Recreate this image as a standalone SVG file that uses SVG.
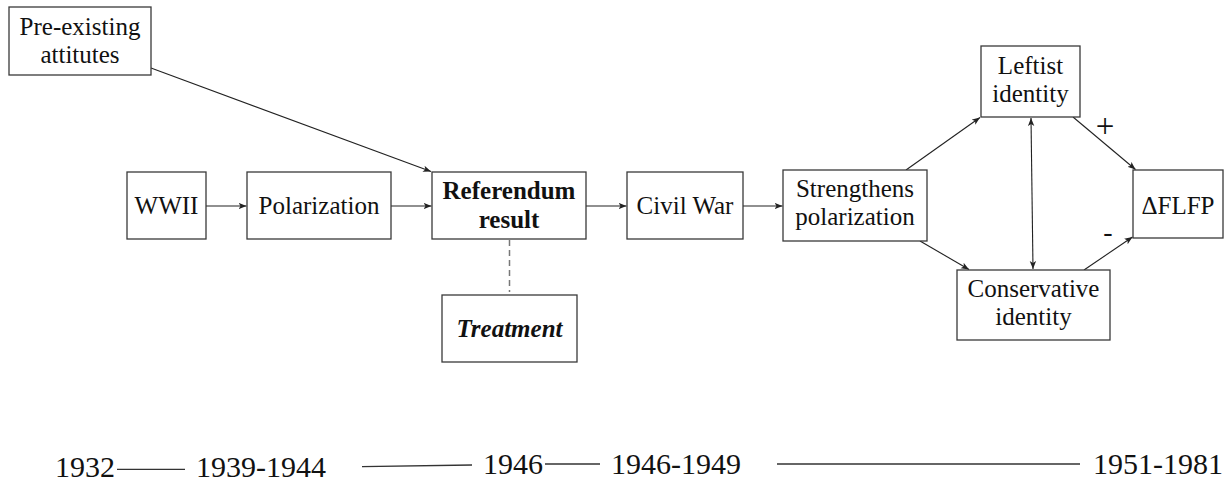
<svg xmlns="http://www.w3.org/2000/svg" width="1232" height="484" viewBox="0 0 1232 484">
<style>
.box{fill:#fff;stroke:#3a3a3a;stroke-width:1.3}
.t{font-family:"Liberation Serif",serif;font-size:25px;fill:#111;text-anchor:middle}
.b{font-weight:bold}
.bi{font-weight:bold;font-style:italic}
.c{stroke:#222;stroke-width:1.1;fill:none}
.d{stroke:#777;stroke-width:1.5;stroke-dasharray:6,4;fill:none}
.tl{font-family:"Liberation Serif",serif;font-size:30px;fill:#111}
.tline{stroke:#333;stroke-width:1.3}
.sign{font-family:"Liberation Serif",serif;fill:#111;text-anchor:middle}
</style>
<defs>
<marker id="ah" markerWidth="10" markerHeight="8" refX="8" refY="4" orient="auto-start-reverse" markerUnits="userSpaceOnUse">
<path d="M0,0.8 L8,4 L0,7.2 L2,4 Z" fill="#222"/>
</marker>
</defs>
<rect width="1232" height="484" fill="#fff"/>
<g id="connectors">
<line class="c" x1="151" y1="68" x2="431" y2="171.5" marker-end="url(#ah)"/>
<line class="c" x1="206" y1="206" x2="246.5" y2="206" marker-end="url(#ah)"/>
<line class="c" x1="391" y1="206" x2="431.5" y2="206" marker-end="url(#ah)"/>
<line class="c" x1="586" y1="206" x2="626.5" y2="206" marker-end="url(#ah)"/>
<line class="c" x1="743" y1="206" x2="782.5" y2="206" marker-end="url(#ah)"/>
<line class="c" x1="906" y1="170" x2="980" y2="117.5" marker-end="url(#ah)"/>
<line class="c" x1="920" y1="241" x2="969" y2="269.5" marker-end="url(#ah)"/>
<line class="c" x1="1073" y1="117" x2="1135.5" y2="169.5" marker-end="url(#ah)"/>
<line class="c" x1="1084" y1="270" x2="1132.5" y2="237" marker-end="url(#ah)"/>
<line class="c" x1="1031" y1="118" x2="1033" y2="269" marker-start="url(#ah)" marker-end="url(#ah)"/>
<line class="d" x1="509.5" y1="240" x2="509.5" y2="292"/>
<text class="sign" x="1105" y="137" font-size="33">+</text>
<text class="t" x="1108" y="241" style="font-size:28px">-</text>
</g>
<g id="pre-existing">
<rect class="box" x="9" y="7" width="142" height="68"/>
<text class="t" x="80" y="35">Pre-existing</text>
<text class="t" x="80" y="63">attitutes</text>
</g>
<g id="wwii">
<rect class="box" x="127" y="172" width="79" height="67"/>
<text class="t" x="166.5" y="214">WWII</text>
</g>
<g id="polarization">
<rect class="box" x="247" y="172" width="144" height="67"/>
<text class="t" x="319" y="214">Polarization</text>
</g>
<g id="referendum">
<rect class="box" x="432" y="172" width="154" height="67"/>
<text class="t b" x="509" y="199">Referendum</text>
<text class="t b" x="509" y="228">result</text>
</g>
<g id="treatment">
<rect class="box" x="442" y="295" width="135" height="67"/>
<text class="t bi" x="509.5" y="337">Treatment</text>
</g>
<g id="civil-war">
<rect class="box" x="627" y="172" width="116" height="67"/>
<text class="t" x="685" y="213.5">Civil War</text>
</g>
<g id="strengthens">
<rect class="box" x="783" y="170" width="144" height="71"/>
<text class="t" x="855" y="197">Strengthens</text>
<text class="t" x="855" y="225">polarization</text>
</g>
<g id="leftist">
<rect class="box" x="981" y="46" width="99" height="71"/>
<text class="t" x="1030.5" y="73.5">Leftist</text>
<text class="t" x="1030.5" y="101.5">identity</text>
</g>
<g id="conservative">
<rect class="box" x="957" y="270" width="153" height="70"/>
<text class="t" x="1033.5" y="297">Conservative</text>
<text class="t" x="1033.5" y="325">identity</text>
</g>
<g id="dflfp">
<rect class="box" x="1133" y="170" width="90" height="68"/>
<text class="t" x="1178" y="213.5">ΔFLFP</text>
</g>
<g id="timeline">
<text class="tl" x="55" y="477">1932</text>
<line class="tline" x1="117" y1="469.3" x2="185" y2="469.3"/>
<text class="tl" x="196" y="477">1939-1944</text>
<line class="tline" x1="362" y1="466.7" x2="472" y2="465"/>
<text class="tl" x="483" y="473.5">1946</text>
<line class="tline" x1="545" y1="464" x2="600" y2="464"/>
<text class="tl" x="611" y="473.5">1946-1949</text>
<line class="tline" x1="777" y1="464" x2="1080" y2="464"/>
<text class="tl" x="1093" y="473.5">1951-1981</text>
</g>
</svg>
